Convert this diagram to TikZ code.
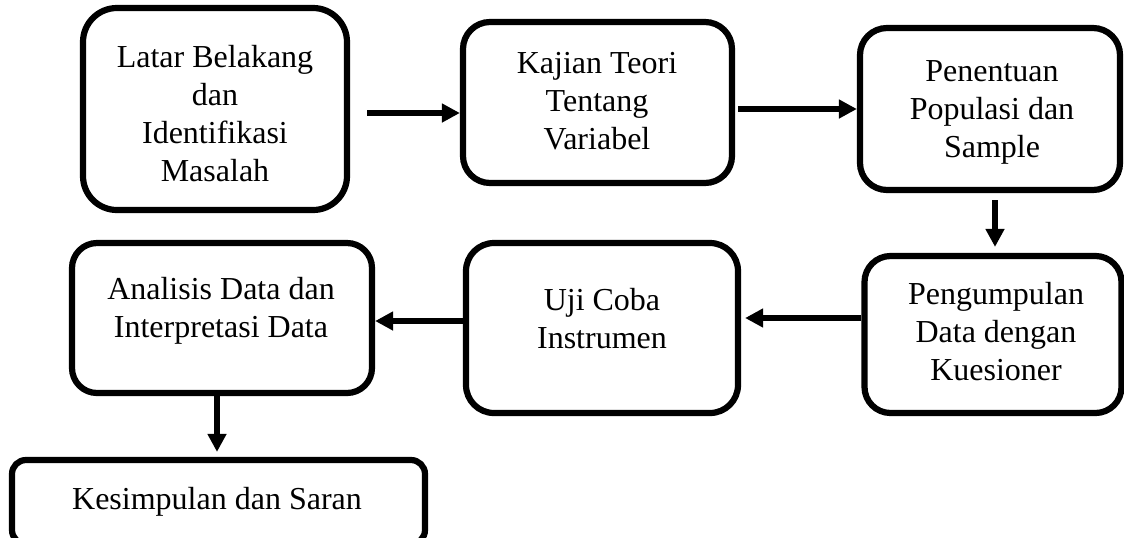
\documentclass[tikz,border=0pt]{standalone}
\usepackage{fontspec}
\setmainfont{Liberation Serif}
\usetikzlibrary{arrows.meta}
\tikzset{
  box/.style={draw=black, line width=3.1pt, inner sep=0pt, fill=white},
  txt/.style={anchor=north, align=center, inner sep=0pt, font=\fontsize{16pt}{19pt}\selectfont},
  arr/.style={line width=3.1pt, -{Triangle[length=9pt,width=9pt]}}
}
\begin{document}
\begin{tikzpicture}[x=0.5pt,y=-0.5pt]
\useasboundingbox (0,0) rectangle (1124,537);
\fill[white] (0,0) rectangle (1124,537);
\begin{scope}
\clip (0,0) rectangle (1124,537);
\node[box, minimum width=132pt, minimum height=101pt, rounded corners=17pt] (b1) at (215,109) {};
\node[box, minimum width=134.5pt, minimum height=80.5pt, rounded corners=13.5pt] (b2) at (597.5,102.5) {};
\node[box, minimum width=130pt, minimum height=81pt, rounded corners=13.5pt] (b3) at (990,109) {};
\node[box, minimum width=128.5pt, minimum height=78.5pt, rounded corners=13pt] (b4) at (993,334.5) {};
\node[box, minimum width=136pt, minimum height=85pt, rounded corners=14pt] (b5) at (602,328) {};
\node[box, minimum width=150pt, minimum height=75pt, rounded corners=12.5pt] (b6) at (222,318) {};
\node[box, minimum width=206.5pt, minimum height=42pt, rounded corners=7pt] (b7) at (218.5,502) {};
\end{scope}

\node[txt] (t1) at (215,45) {Latar Belakang\\dan\\Identifikasi\\Masalah};
\node[txt] (t2) at (597,52) {Kajian Teori\\Tentang\\Variabel};
\node[txt] (t3) at (992,60) {Penentuan\\Populasi dan\\Sample};
\node[txt] (t4) at (996,282) {Pengumpulan\\Data dengan\\Kuesioner};
\node[txt] (t5) at (602,288) {Uji Coba\\Instrumen};
\node[txt] (t6) at (221,277) {Analisis Data dan\\Interpretasi Data};
\node[txt] (t7) at (217,487) {Kesimpulan dan Saran};

\draw[arr, shorten <=8.5pt] ([yshift=-2pt]b1.east) -- ([yshift=-2pt]b1.east -| b2.west);
\draw[arr, shorten <=1.5pt] (b3.west -| b2.east) -- (b3.west);
\draw[arr, shorten <=3.5pt, shorten >=3pt] ([xshift=2.5pt]b3.south) -- ([xshift=2.5pt]b3.south |- b4.north);
\draw[arr, shorten >=2pt] ([yshift=8.25pt]b4.west) -- ([yshift=8.25pt]b4.west -| b5.east);
\draw[arr] ([yshift=3.5pt]b5.west) -- ([yshift=3.5pt]b5.west -| b6.east);
\draw[arr, shorten >=2.5pt] ([xshift=-2.5pt]b6.south) -- ([xshift=-2.5pt]b6.south |- b7.north);
\end{tikzpicture}
\end{document}
